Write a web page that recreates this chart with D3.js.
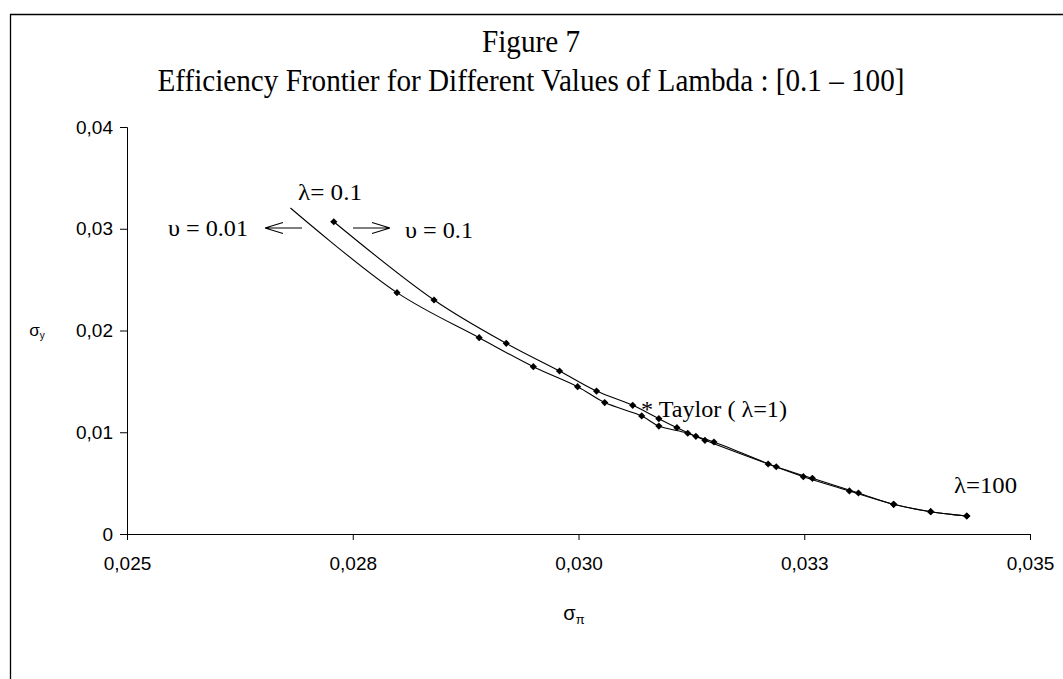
<!DOCTYPE html>
<html><head><meta charset="utf-8">
<script src="https://cdn.jsdelivr.net/npm/d3@7"></script>
<style>body{margin:0;background:#fff} svg{display:block}</style>
</head><body><svg id="c" width="1063" height="679"></svg>
<script>
// ---- data ----
const xTicks = [0.025, 0.0275, 0.030, 0.0325, 0.035];
const xTickLabels = ["0,025", "0,028", "0,030", "0,033", "0,035"];
const yTicks = [0, 0.01, 0.02, 0.03, 0.04];
const yTickLabels = ["0", "0,01", "0,02", "0,03", "0,04"];

// frontier for upsilon = 0.01 (first point has no marker)
const lowX = [0.02681, 0.02799, 0.02890, 0.02950, 0.02999, 0.03029, 0.03070, 0.03089,
              0.03121, 0.03140, 0.03210, 0.03249, 0.03300, 0.03349, 0.03390, 0.03430];
const lowY = [0.03204, 0.02372, 0.01929, 0.01644, 0.01448, 0.01292, 0.01160, 0.01061,
              0.00990, 0.00921, 0.00688, 0.00563, 0.00423, 0.00292, 0.00219, 0.00177];
// frontier for upsilon = 0.1
const highX = [0.02729, 0.02840, 0.02920, 0.02979, 0.03020, 0.03060, 0.03089, 0.03109,
               0.03130, 0.03150, 0.03219, 0.03259, 0.03310, 0.03349, 0.03390, 0.03430];
const highY = [0.03069, 0.02300, 0.01874, 0.01602, 0.01405, 0.01265, 0.01133, 0.01045,
               0.00960, 0.00904, 0.00661, 0.00547, 0.00403, 0.00292, 0.00219, 0.00177];

const titleLines = ["Figure 7", "Efficiency Frontier for Different Values of Lambda : [0.1 \u2013 100]"];

// ---- drawing ----
const svg = d3.select("#c");
const W = 1063, H = 679;
const x = d3.scaleLinear().domain([0.025, 0.035]).range([127, 1030]);
const y = d3.scaleLinear().domain([0, 0.04]).range([534, 127]);

// frame (open at right & bottom)
svg.append("path").attr("d", `M10.5,${H + 5}V14.5H${W + 5}`)
  .attr("fill", "none").attr("stroke", "#000").attr("stroke-width", 1.3);

const serif = "'Liberation Serif','Times New Roman',serif";
const sans = "'Liberation Sans',Arial,sans-serif";

// title (slightly condensed glyphs, as in the original)
function squeezed(px, py, s, size, k) {
  const t = svg.append("text").attr("x", px).attr("y", py).attr("text-anchor", "middle")
    .attr("font-family", serif).attr("font-size", size).text(s);
  const w = t.node().getComputedTextLength();
  t.attr("textLength", w * k).attr("lengthAdjust", "spacingAndGlyphs");
  return t;
}
squeezed(531, 52, titleLines[0], 31, 0.94);
squeezed(531, 91, titleLines[1], 31, 0.94);

// axes
const gx = svg.append("g").attr("transform", `translate(0,${y(0)})`)
  .call(d3.axisBottom(x).tickValues(xTicks).tickSize(6).tickPadding(17)
        .tickFormat((d, i) => xTickLabels[i]));
const gy = svg.append("g").attr("transform", `translate(${x(0.025)},0)`)
  .call(d3.axisLeft(y).tickValues(yTicks).tickSize(7).tickPadding(7)
        .tickFormat((d, i) => yTickLabels[i]));
[gx, gy].forEach(g => {
  g.select(".domain").attr("stroke", "#000");
  g.selectAll(".tick line").attr("stroke", "#000");
  g.selectAll("text").attr("font-family", sans).attr("font-size", 19).attr("fill", "#000");
});

// axis titles
const xt = svg.append("text").attr("x", 574).attr("y", 620).attr("text-anchor", "middle")
  .attr("font-family", sans).attr("font-size", 20);
xt.append("tspan").text("\u03c3");
xt.append("tspan").attr("font-size", 13).attr("dy", 4).text("\u03c0");
const yt = svg.append("text").attr("x", 37).attr("y", 336).attr("text-anchor", "middle")
  .attr("font-family", sans).attr("font-size", 17);
yt.append("tspan").text("\u03c3");
yt.append("tspan").attr("font-size", 10).attr("dy", 3).text("y");

// lines
const line = d3.line().x(d => x(d[0])).y(d => y(d[1])).curve(d3.curveCatmullRom.alpha(0.5));
const low = lowX.map((v, i) => [v, lowY[i]]);
const high = highX.map((v, i) => [v, highY[i]]);
[low, high].forEach(s => {
  svg.append("path").datum(s).attr("d", line).attr("fill", "none")
    .attr("stroke", "#000").attr("stroke-width", 1.1);
});

// diamond markers
const diamond = "M0,-3.6L3.6,0L0,3.6L-3.6,0Z";
svg.append("g").selectAll("path").data(low.slice(1).concat(high)).join("path")
  .attr("d", diamond).attr("fill", "#000")
  .attr("transform", d => `translate(${x(d[0])},${y(d[1])})`);

// annotations (width matched to the original)
function txt(px, py, s, size, width) {
  return svg.append("text").attr("x", px).attr("y", py).attr("font-family", serif)
    .attr("font-size", size).attr("xml:space", "preserve")
    .attr("textLength", width).attr("lengthAdjust", "spacingAndGlyphs").text(s);
}
txt(298, 200, "\u03bb= 0.1", 23.5, 64);
txt(168, 236, "\u03c5 = 0.01", 23.5, 80);
txt(405, 238, "\u03c5 = 0.1", 23.5, 68);
txt(641, 417, "* Taylor ( \u03bb=1)", 23.5, 146);
txt(954, 493, "\u03bb=100", 23.5, 63);

// arrows
const arr = svg.append("g").attr("fill", "none").attr("stroke", "#000").attr("stroke-width", 1.1);
arr.append("path").attr("d", "M265,228H302M265,228L283,222.5M265,228L283,233.5");
arr.append("path").attr("d", "M353,228H390M390,228L372,222.5M390,228L372,233.5");
</script>
</body></html>
